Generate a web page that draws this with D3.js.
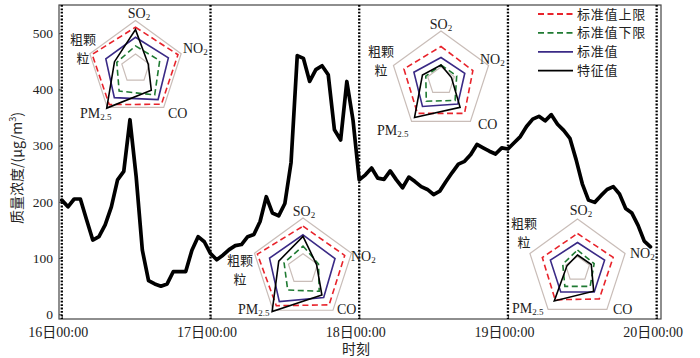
<!DOCTYPE html>
<html><head><meta charset="utf-8">
<script src="https://cdn.jsdelivr.net/npm/d3@7"></script>
<style>
html,body{margin:0;padding:0;background:#fff;}
svg{display:block;}
text{font-family:"Liberation Serif","Times New Roman","Noto Sans CJK SC",serif;fill:#222;}
</style></head>
<body>
<svg id="chart" width="700" height="358"></svg>
<script>
// ---------- data ----------
const dayLabels = ["16日00:00","17日00:00","18日00:00","19日00:00","20日00:00"];
const yTicks = [0,100,200,300,400,500];
// hourly mass concentration, 16日00:00 .. 19日23:00
const concentration = [
 203,191,205,205,168,132,138,159,191,239,254,346,245,114,60,54,50,54,76,76,76,114,138,129,
 108,97,105,115,122,124,138,142,165,209,180,175,197,270,460,455,414,435,442,426,328,310,414,345,
 239,248,260,242,240,255,239,225,244,236,227,222,213,219,236,252,267,272,284,302,296,290,285,296,
 294,305,316,334,347,352,344,355,338,327,313,275,232,203,199,211,222,227,214,188,180,158,130,120
];
const radarAxes = ["SO2","NO2","CO","PM2.5","粗颗粒"];
const seriesNames = ["标准值上限","标准值下限","标准值","特征值"];
const radarUpper = [[0.86,0.93,0.92,0.93,0.95],[0.84,0.86,0.87,0.89,0.94],[0.69,0.67,0.80,0.80,0.78],[0.71,0.75,0.74,0.76,0.74]];
const radarLower = [[0.47,0.53,0.68,0.58,0.41],[0.45,0.32,0.54,0.51,0.39],[0.32,0.33,0.48,0.50,0.32],[0.38,0.35,0.43,0.43,0.31]];
const radarStd   = [[0.65,0.72,0.80,0.75,0.65],[0.67,0.66,0.69,0.79,0.69],[0.47,0.50,0.57,0.63,0.57],[0.53,0.57,0.57,0.57,0.57]];
const radarChar  = [[0.81,0.28,0.56,1.02,0.46],[0.64,0.28,0.63,1.03,0.50],[0.32,0.22,0.65,0.90,0.39],[0.28,0.29,0.55,0.79,0.22]];
const radarInner = [0.30,0.30,0.28,0.25];

// ---------- layout ----------
const svg = d3.select("#chart");
const L = 59, R = 661, T = 5, B = 319;
const x = d3.scaleLinear().domain([-0.45, 96.7]).range([L, R]);
const y = d3.scaleLinear().domain([-8.4, 550]).range([B, T]);

// frame
svg.append("rect").attr("x",L).attr("y",T).attr("width",R-L).attr("height",B-T)
  .attr("fill","none").attr("stroke","#444").attr("stroke-width",1.2);

// y axis
const yAxis = d3.axisLeft(y).tickValues(yTicks).tickSize(-3).tickPadding(6);
const gy = svg.append("g").attr("transform",`translate(${L},0)`).call(yAxis);
gy.select(".domain").remove();
gy.selectAll("line").attr("stroke","#444");
gy.selectAll("text").attr("font-size",13.5).attr("fill","#333")
  .style("font-family","'Liberation Serif',serif");

// x axis
const xAxis = d3.axisBottom(x).tickValues([0,24,48,72,96]).tickFormat((d,i)=>dayLabels[i]).tickSize(-3).tickPadding(8);
const gx = svg.append("g").attr("transform",`translate(0,${B})`).call(xAxis);
gx.select(".domain").remove();
gx.selectAll("line").attr("stroke","#444");
gx.selectAll("text").attr("font-size",14).attr("fill","#333").attr("dx",-4)
  .style("font-family","'Liberation Serif','Noto Sans CJK SC',serif");

// dotted day separators
svg.append("g").selectAll("line").data([0,24,48,72,96]).join("line")
  .attr("x1",d=>x(d)).attr("x2",d=>x(d)).attr("y1",T).attr("y2",B)
  .attr("stroke","#000").attr("stroke-width",2.3).attr("stroke-dasharray","1.8,1.6");

// axis titles
svg.append("text").attr("x",356).attr("y",354).attr("text-anchor","middle")
  .attr("font-size",14).style("font-family","'Noto Sans CJK SC',sans-serif").text("时刻");
const yt = svg.append("text").attr("transform","translate(22,168) rotate(-90)")
  .attr("text-anchor","middle").attr("font-size",14)
  .style("font-family","'Noto Sans CJK SC',sans-serif");
yt.append("tspan").text("质量浓度/(μg/m");
yt.append("tspan").attr("font-size",9).attr("dy",-6).text("3");
yt.append("tspan").attr("dy",6).text(")");

// main line
const line = d3.line().x((d,i)=>x(i)).y(d=>y(d));
svg.append("path").datum(concentration).attr("d",line)
  .attr("fill","none").attr("stroke","#000").attr("stroke-width",3.7)
  .attr("stroke-linejoin","round").attr("stroke-linecap","round");

// radars
const radarGeom = [
  {cx:135.5, cy:68.5, r:48,
   labels:[[139,18,"m"],[183,53,"s"],[168,118,"s"],[80,118,"s"],[83,44,"m"]]},
  {cx:303, cy:269, r:51,
   labels:[[304,216,"m"],[351,261,"s"],[337,314,"s"],[238,314,"s"],[240,265,"m"]]},
  {cx:441, cy:81, r:50,
   labels:[[441,29,"m"],[480,64,"s"],[478,129,"s"],[377,135,"s"],[381,56,"m"]]},
  {cx:577.5, cy:269, r:50,
   labels:[[581,215,"m"],[630,258,"s"],[613,314,"s"],[512,313,"s"],[524,228,"m"]]}
];
const ang = k => -Math.PI/2 + k*2*Math.PI/5;
function poly(g, cx, cy, rs, vals, stroke, dash, sw){
  const pts = vals.map((v,k)=>[cx + rs(v)*Math.cos(ang(k)), cy + rs(v)*Math.sin(ang(k))]);
  g.append("path").attr("d", d3.line()(pts) + "Z")
    .attr("fill","none").attr("stroke",stroke).attr("stroke-width",sw)
    .attr("stroke-dasharray",dash).attr("stroke-linejoin","miter");
}
const colors = {upper:"#e8232b", lower:"#1f7a32", std:"#3a2a86", ch:"#000", ring:"#c9bdb8"};
radarGeom.forEach((geo,i)=>{
  const g = svg.append("g");
  const rs = d3.scaleLinear().domain([0,1]).range([0,geo.r]);
  poly(g, geo.cx, geo.cy, rs, [1,1,1,1,1], colors.ring, null, 1.2);
  poly(g, geo.cx, geo.cy, rs, Array(5).fill(radarInner[i]), colors.ring, null, 1.2);
  poly(g, geo.cx, geo.cy, rs, radarUpper[i], colors.upper, "6,3.5", 1.6);
  poly(g, geo.cx, geo.cy, rs, radarStd[i], colors.std, null, 1.6);
  poly(g, geo.cx, geo.cy, rs, radarLower[i], colors.lower, "6,3.5", 1.6);
  poly(g, geo.cx, geo.cy, rs, radarChar[i], colors.ch, null, 1.6);
  // labels
  geo.labels.forEach((lp,k)=>{
    const name = radarAxes[k];
    if(name==="粗颗粒"){
      g.append("text").attr("x",lp[0]).attr("y",lp[1]).attr("text-anchor","middle")
        .attr("font-size",13).style("font-family","'Noto Sans CJK SC',sans-serif").text("粗颗");
      g.append("text").attr("x",lp[0]).attr("y",lp[1]+18.5).attr("text-anchor","middle")
        .attr("font-size",13).style("font-family","'Noto Sans CJK SC',sans-serif").text("粒");
    } else {
      const t = g.append("text").attr("x",lp[0]).attr("y",lp[1])
        .attr("text-anchor", lp[2]==="m" ? "middle" : "start").attr("font-size",14);
      const m = name.match(/^([A-Z]+)(.*)$/);
      t.append("tspan").text(m[1]);
      t.append("tspan").attr("font-size",9).attr("dy",2).text(m[2]);
    }
  });
});

// legend
const legColors = [colors.upper, colors.lower, colors.std, colors.ch];
const legDash = ["6,3.5","6,3.5",null,null];
const legY = [14, 32.9, 51.8, 70.7];
const lg = svg.append("g");
seriesNames.forEach((s,i)=>{
  lg.append("line").attr("x1",538).attr("x2",573).attr("y1",legY[i]).attr("y2",legY[i])
    .attr("stroke",legColors[i]).attr("stroke-width",1.8).attr("stroke-dasharray",legDash[i]);
  lg.append("text").attr("x",577).attr("y",legY[i]+4.5).attr("font-size",13)
    .attr("letter-spacing",0.8)
    .style("font-family","'Noto Sans CJK SC',sans-serif").text(s);
});
</script>
</body></html>
